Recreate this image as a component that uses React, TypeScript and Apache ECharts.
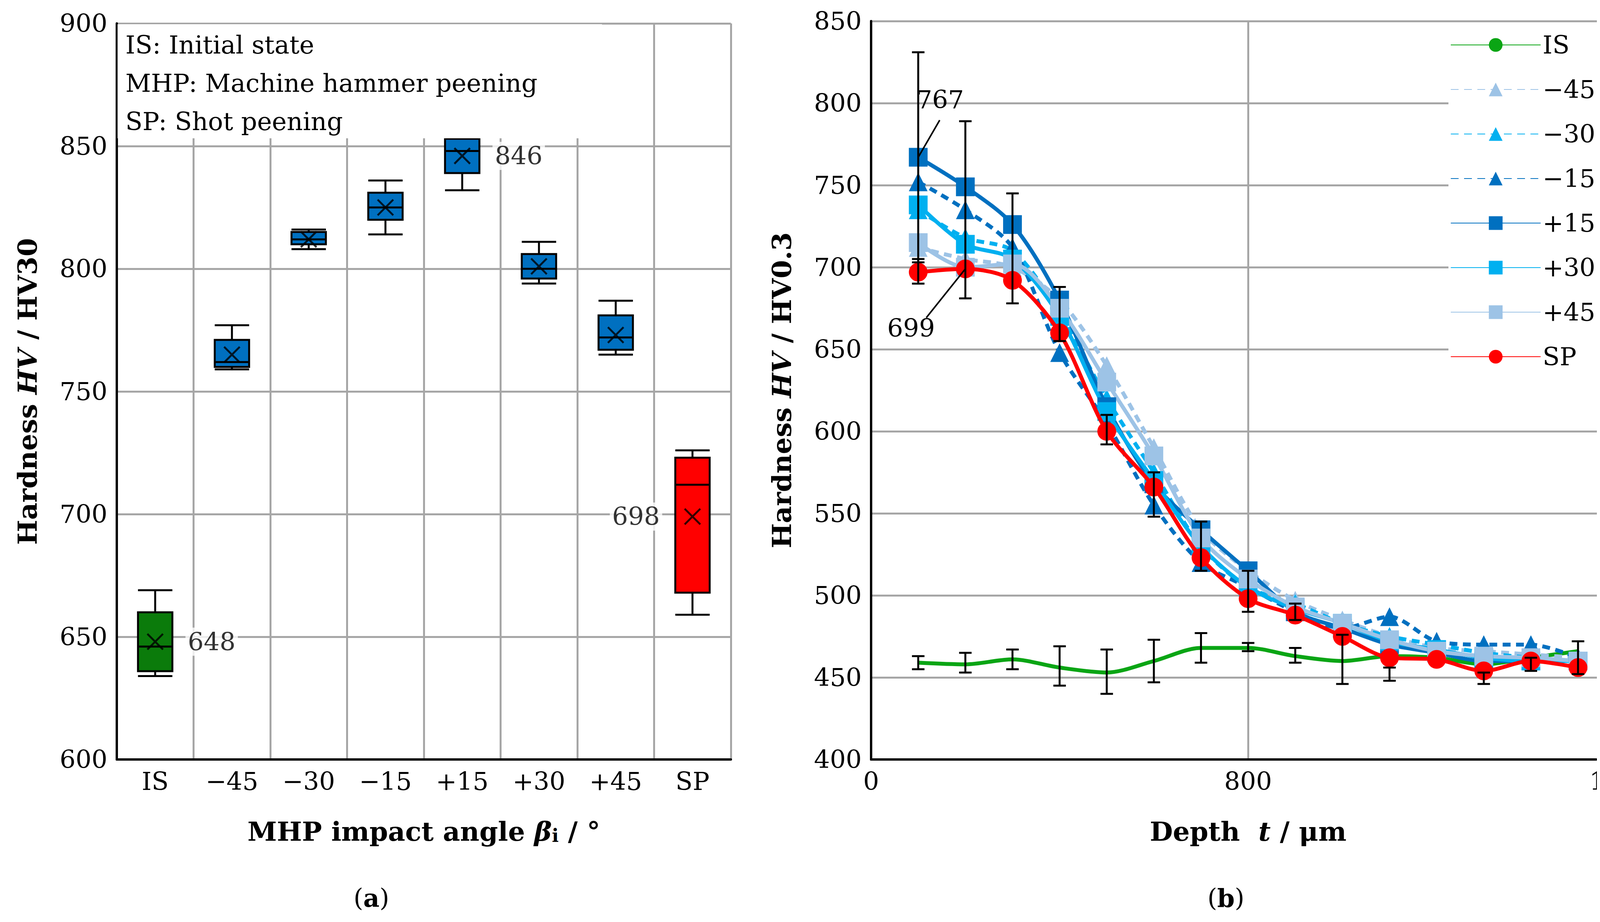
import React, { useEffect, useRef } from "react";
import * as echarts from "echarts";

// ---- panel (a): surface hardness box plots ----
const angles = ["IS", "−45", "−30", "−15", "+15", "+30", "+45", "SP"];
// [min, Q1, median, Q3, max]
const boxStats = [
  [634, 636, 646, 660, 669],
  [759, 760, 762, 771, 777],
  [808, 810, 812, 815, 816],
  [814, 820, 825, 831, 836],
  [832, 839, 848, 853, 857],
  [794, 796, 800, 806, 811],
  [765, 767, 772, 781, 787],
  [659, 668, 712, 723, 726],
];
const boxMeans = [648, 765, 812, 825, 846, 801, 773, 699];
const meanLabels = ["648", "", "", "", "846", "", "", "698"];
const boxColors = ["#0B7B0B", "#0070C0", "#0070C0", "#0070C0", "#0070C0", "#0070C0", "#0070C0", "#FF0000"];

// ---- panel (b): hardness depth profiles ----
const depth = [100, 200, 300, 400, 500, 600, 700, 800, 900, 1000, 1100, 1200, 1300, 1400, 1500];
const profIS = [459, 458, 461, 456, 453, 460, 468, 468, 463, 460, 463, 462, 458, 462, 466];
const profM45 = [712, 705, 700, 680, 640, 590, 540, 515, 497, 485, 475, 468, 466, 464, 462];
const profM30 = [735, 718, 710, 672, 620, 575, 530, 505, 495, 483, 475, 470, 465, 462, 460];
const profM15 = [752, 735, 712, 648, 605, 555, 520, 505, 490, 480, 487, 472, 470, 470, 462];
const profP15 = [767, 749, 726, 680, 615, 568, 540, 515, 490, 480, 470, 465, 460, 460, 460];
const profP30 = [738, 714, 705, 670, 612, 570, 530, 505, 492, 483, 472, 467, 462, 460, 460];
const profP45 = [715, 700, 702, 675, 630, 585, 535, 510, 493, 483, 473, 466, 463, 462, 460];
const profSP = [697, 699, 692, 660, 600, 566, 523, 498, 488, 475, 462, 461, 454, 460, 456];
// [depth, low, high]
const errorBars = [
  [100, 703, 831], [100, 690, 705], [200, 681, 789], [300, 678, 745], [400, 655, 688],
  [500, 592, 610], [600, 548, 575], [700, 515, 545], [800, 490, 515], [900, 485, 495],
  [100, 455, 463], [200, 453, 465], [300, 455, 467], [400, 445, 469], [500, 440, 467],
  [600, 447, 473], [700, 459, 477], [800, 466, 471], [900, 459, 468], [1000, 446, 476],
  [1100, 448, 456], [1300, 446, 453], [1400, 454, 462], [1500, 452, 472],
];

const FONT = "'DejaVu Serif', 'Liberation Serif', serif";
const FS = 64;

const App: React.FC = () => {
  const chartRef = useRef<HTMLDivElement>(null);

  useEffect(() => {
    if (!chartRef.current) return;
    const chart = echarts.init(chartRef.current, undefined, { renderer: "svg" });

    const axisCommon = {
      axisLine: { show: true, lineStyle: { color: "#000", width: 6 } },
      axisTick: { show: false },
      axisLabel: { color: "#000", fontSize: FS, fontFamily: FONT, margin: 24 },
      splitLine: { show: true, lineStyle: { color: "#A6A6A6", width: 5 } },
    };
    const nameRich = {
      n: { fontSize: 68, fontFamily: FONT, fontWeight: "bold" as const, color: "#000" },
      bi: { fontSize: 68, fontFamily: FONT, fontWeight: "bold" as const, fontStyle: "italic" as const, color: "#000" },
      s: { fontSize: 46, fontFamily: FONT, fontWeight: "bold" as const, color: "#000", verticalAlign: "bottom" as const },
    };

    const profile = (name: string, data: number[], color: string, symbol: string, dashed: boolean, z: number) => ({
      name,
      type: "line",
      xAxisIndex: 1,
      yAxisIndex: 1,
      data: depth.map((d, i) => [d, data[i]]),
      smooth: 0.3,
      symbol,
      symbolSize: symbol === "none" ? 0 : 48,
      showSymbol: symbol !== "none",
      z,
      itemStyle: { color },
      lineStyle: { color, width: 10, type: dashed ? [20, 14] : "solid" },
    });

    const option = {
      animation: false,
      textStyle: { fontFamily: FONT },
      grid: [
        { left: 291, top: 52, width: 1572, height: 1884 },
        { left: 2222, top: 46, width: 1944, height: 1890 },
      ],
      xAxis: [
        {
          type: "category",
          gridIndex: 0,
          data: angles,
          boundaryGap: true,
          ...axisCommon,
          name: "{n|MHP impact angle }{bi|β}{s|i}{n| / °}",
          nameLocation: "middle",
          nameGap: 150,
          nameTextStyle: { rich: nameRich },
        },
        {
          type: "value",
          gridIndex: 1,
          min: 0,
          max: 1600,
          interval: 800,
          ...axisCommon,
          name: "{n|Depth  }{bi|t}{n| / μm}",
          nameLocation: "middle",
          nameGap: 150,
          nameTextStyle: { rich: nameRich },
        },
      ],
      yAxis: [
        {
          type: "value",
          gridIndex: 0,
          min: 600,
          max: 900,
          interval: 50,
          ...axisCommon,
          name: "{n|Hardness }{bi|HV}{n| / HV30}",
          nameLocation: "middle",
          nameRotate: 90,
          nameGap: 195,
          nameTextStyle: { rich: nameRich },
        },
        {
          type: "value",
          gridIndex: 1,
          min: 400,
          max: 850,
          interval: 50,
          ...axisCommon,
          name: "{n|Hardness }{bi|HV}{n| / HV0.3}",
          nameLocation: "middle",
          nameRotate: 90,
          nameGap: 195,
          nameTextStyle: { rich: nameRich },
        },
      ],
      legend: {
        data: ["IS", "−45°", "−30°", "−15°", "+15°", "+30°", "+45°", "SP"],
        orient: "vertical",
        left: 3700,
        top: 70,
        itemWidth: 230,
        itemHeight: 44,
        itemGap: 50,
        backgroundColor: "#fff",
        textStyle: { fontSize: FS, fontFamily: FONT, color: "#000" },
      },
      series: [
        {
          type: "boxplot",
          xAxisIndex: 0,
          yAxisIndex: 0,
          boxWidth: [88, 88],
          data: boxStats.map((v, i) => ({
            value: v,
            itemStyle: { color: boxColors[i], borderColor: "#000", borderWidth: 5 },
          })),
        },
        {
          type: "scatter",
          xAxisIndex: 0,
          yAxisIndex: 0,
          symbol: "path://M0,0L10,10M10,0L0,10",
          symbolSize: 40,
          itemStyle: { color: "transparent", borderColor: "#000", borderWidth: 5 },
          data: boxMeans.map((m, i) => ({
            value: [angles[i], m],
            label: {
              show: meanLabels[i] !== "",
              formatter: meanLabels[i],
              position: i === 7 ? "left" : "right",
              distance: 55,
              fontSize: FS,
              fontFamily: FONT,
              color: "#000",
              backgroundColor: "#fff",
              padding: [4, 6],
            },
          })),
          z: 5,
        },
        profile("IS", profIS, "#0AA514", "none", false, 3),
        profile("−45°", profM45, "#9DC3E6", "triangle", true, 4),
        profile("−30°", profM30, "#00B0F0", "triangle", true, 4),
        profile("−15°", profM15, "#0070C0", "triangle", true, 4),
        profile("+15°", profP15, "#0070C0", "rect", false, 5),
        profile("+30°", profP30, "#00B0F0", "rect", false, 5),
        profile("+45°", profP45, "#9DC3E6", "rect", false, 5),
        profile("SP", profSP, "#FF0000", "circle", false, 6),
        {
          type: "custom",
          xAxisIndex: 1,
          yAxisIndex: 1,
          z: 7,
          data: errorBars,
          renderItem: (_p: any, api: any) => {
            const a = api.coord([api.value(0), api.value(1)]);
            const b = api.coord([api.value(0), api.value(2)]);
            const h = 16;
            const st = { stroke: "#000", lineWidth: 5 };
            return {
              type: "group",
              children: [
                { type: "line", shape: { x1: a[0], y1: a[1], x2: b[0], y2: b[1] }, style: st },
                { type: "line", shape: { x1: a[0] - h, y1: a[1], x2: a[0] + h, y2: a[1] }, style: st },
                { type: "line", shape: { x1: b[0] - h, y1: b[1], x2: b[0] + h, y2: b[1] }, style: st },
              ],
            };
          },
        },
      ],
    };
    chart.setOption(option);

    const p767 = chart.convertToPixel({ gridIndex: 1 }, [100, 767]) as number[];
    const p699 = chart.convertToPixel({ gridIndex: 1 }, [200, 699]) as number[];
    const tStyle = { fontSize: FS, fontFamily: FONT, fill: "#000" };
    chart.setOption({
      graphic: [
        { type: "rect", shape: { x: 293, y: 54, width: 1240, height: 292 }, style: { fill: "#fff" }, z: 10 },
        { type: "text", x: 313, y: 75, style: { ...tStyle, text: "IS: Initial state" }, z: 11 },
        { type: "text", x: 313, y: 173, style: { ...tStyle, text: "MHP: Machine hammer peening" }, z: 11 },
        { type: "text", x: 313, y: 271, style: { ...tStyle, text: "SP: Shot peening" }, z: 11 },
        { type: "line", shape: { x1: p767[0], y1: p767[1], x2: p767[0] + 55, y2: p767[1] - 95 }, style: { stroke: "#000", lineWidth: 4 }, z: 20 },
        { type: "text", x: p767[0] - 5, y: p767[1] - 180, style: { ...tStyle, text: "767" }, z: 20 },
        { type: "line", shape: { x1: p699[0], y1: p699[1], x2: p699[0] - 100, y2: p699[1] + 125 }, style: { stroke: "#000", lineWidth: 4 }, z: 20 },
        { type: "text", x: p699[0] - 200, y: p699[1] + 120, style: { ...tStyle, text: "699" }, z: 20 },
        {
          type: "text", x: 897, y: 2258,
          style: { text: "({b|a})", font: `${FS}px ${FONT}`, fill: "#000", rich: { b: { fontSize: FS, fontFamily: FONT, fontWeight: "bold" } } },
        },
        {
          type: "text", x: 3083, y: 2258,
          style: { text: "({b|b})", font: `${FS}px ${FONT}`, fill: "#000", rich: { b: { fontSize: FS, fontFamily: FONT, fontWeight: "bold" } } },
        },
      ],
    });

    return () => chart.dispose();
  }, []);

  return <div ref={chartRef} style={{ width: "4247px", height: "2344px", background: "#fff" }}></div>;
};

export default App;
